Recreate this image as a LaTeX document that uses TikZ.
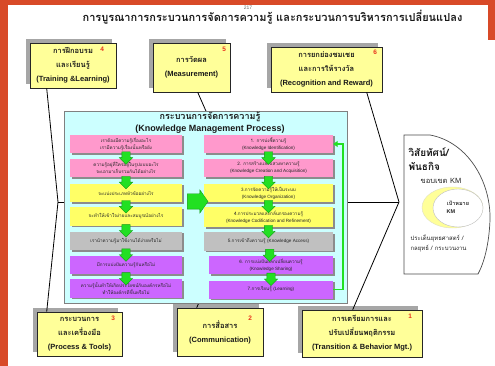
\documentclass[tikz,border=0pt]{standalone}
\usepackage{fontspec}
\setmainfont[Script=Thai]{Loma}
\newfontfamily\enfont{Liberation Sans}
\newcommand\entext[1]{{\enfont #1}}
\usetikzlibrary{calc,shadows,shapes.arrows,arrows.meta}

\definecolor{frameorange}{HTML}{D84A28}
\definecolor{paleyellow}{HTML}{FFFF99}
\definecolor{kmcyan}{HTML}{CCFFFF}
\definecolor{kpink}{HTML}{FF99CC}
\definecolor{kyellow}{HTML}{FFFF66}
\definecolor{kgray}{HTML}{C0C0C0}
\definecolor{kpurple}{HTML}{CC66FF}
\definecolor{kgreen}{HTML}{22E022}
\definecolor{kgreenedge}{HTML}{119911}
\definecolor{numred}{HTML}{E8341C}

\tikzset{
  factor/.style={draw=black!85, line width=0.6pt, fill=paleyellow, align=center,
    inner sep=0pt, text=black!90, font=\fontsize{7.5}{14}\selectfont\bfseries,
    drop shadow={shadow xshift=-4pt, shadow yshift=4pt, fill=black!35, opacity=1}},
  num/.style={text=numred, font=\enfont\fontsize{6.5}{7}\selectfont\bfseries, inner sep=0pt},
  kmstep/.style={inner sep=0pt, align=center, text=black!85,
    font=\fontsize{4.6}{7}\selectfont,
    drop shadow={shadow xshift=1.5pt, shadow yshift=-1.5pt, fill=black!45, opacity=1}},
  leftstep/.style={kmstep, minimum width=112pt, minimum height=18.5pt},
  rightstep/.style={kmstep, minimum width=129pt, minimum height=18.5pt},
  narrowstep/.style={kmstep, minimum width=124pt, minimum height=18pt},
  bone/.style={draw=black, line width=0.8pt},
  gdown/.style={single arrow, rotate=-90, draw=kgreenedge, fill=kgreen,
    line width=0.3pt, inner sep=4pt, minimum height=11pt,
    single arrow head extend=2.5pt},
  gright/.style={single arrow, draw=kgreenedge, fill=kgreen, line width=0.3pt,
    inner sep=7.5pt, minimum height=18pt, single arrow head extend=4pt,
    single arrow tip angle=110},
  fback/.style={draw=kgreen, line width=1.5pt, -{Triangle[length=4.5pt,width=6pt]}},
}

\begin{document}
\begin{tikzpicture}[x=1pt, y=-1pt]
\useasboundingbox (0,0) rectangle (495,366);

% page frame
\fill[frameorange] (0,0) rectangle (495,5);
\fill[frameorange] (0,0) rectangle (8,366);
\fill[frameorange] (488,0) rectangle (495,40);

% heading
\node[font=\enfont\fontsize{5}{6}\selectfont, text=black!60] (pgno) at (248,8) {217};
\node[font=\fontsize{11}{13}\selectfont\bfseries, text=black!90] (title) at (272.5,17)
  {การบูรณาการกระบวนการจัดการความรู้ และกระบวนการบริหารการเปลี่ยนแปลง};

% fishbone joints
\coordinate (tail) at (58,202);
\coordinate (hd) at (399,202);
\coordinate (j5) at (246,202);
\coordinate (j2) at (243,202);

% factor boxes
\node[factor, minimum width=86pt, minimum height=45pt] (b4) at (73,65.5)
  {การฝึกอบรม\\และเรียนรู้\\\entext{(Training \&Learning)}};
\node[factor, minimum width=77pt, minimum height=49pt] (b5) at (191.5,67.5)
  {การวัดผล\\\entext{(Measurement)}};
\node[factor, minimum width=111pt, minimum height=45pt] (b6) at (326.5,69.5)
  {การยกย่องชมเชย\\และการให้รางวัล\\\entext{(Recognition and Reward)}};
\node[factor, minimum width=85pt, minimum height=44pt] (b3) at (79.5,334)
  {กระบวนการ\\และเครื่องมือ\\\entext{(Process \& Tools)}};
\node[factor, minimum width=86pt, minimum height=48pt] (b2) at (220,332)
  {การสื่อสาร\\\entext{(Communication)}};
\node[factor, minimum width=120pt, minimum height=47pt] (b1) at (362,333.5)
  {การเตรียมการและ\\ปรับเปลี่ยนพฤติกรรม\\\entext{(Transition \& Behavior Mgt.)}};

\node[num] (n4) at ($(b4.north east)+(-14,7)$) {4};
\node[num] (n5) at ($(b5.north east)+(-6,7)$) {5};
\node[num] (n6) at ($(b6.north east)+(-7,6)$) {6};
\node[num] (n3) at ($(b3.north east)+(-9,7)$) {3};
\node[num] (n2) at ($(b2.north east)+(-13,11)$) {2};
\node[num] (n1) at ($(b1.north east)+(-12,7)$) {1};

% bones
\draw[bone] (tail) -- (hd);
\draw[bone] ($(b4.south west)+(17,0)$) -- (tail);
\draw[bone] ($(b3.north west)+(10,0)$) -- (tail);
\draw[bone] ($(b5.south west)+(45,0)$) -- (j5);
\draw[bone] ($(b2.north west)+(20,0)$) -- (j2);
\draw[bone] ($(b6.south west)+(96,0)$) -- (hd);
\draw[bone] ($(b1.north west)+(51,0)$) -- (hd);

% knowledge management process panel
\node[draw=black!50, fill=kmcyan, line width=0.6pt, minimum width=283pt,
  minimum height=192pt, inner sep=0pt] (km) at (205.5,207) {};
\node[font=\fontsize{9}{10}\selectfont\bfseries, text=black!90] (kmth) at (210,117)
  {กระบวนการจัดการความรู้};
\node[font=\enfont\fontsize{9}{10}\selectfont\bfseries, text=black!90] (kmen) at (210,129)
  {(Knowledge Management Process)};

% guiding questions
\node[leftstep, fill=kpink] (l1) at (126,144) {เราต้องมีความรู้เรื่องอะไร\\เรามีความรู้เรื่องนั้นหรือยัง};
\node[leftstep, fill=kpink] (l2) at (126,168) {ความรู้อยู่ที่ใครอยู่ในรูปแบบอะไร\\จะเอามาเก็บรวมกันได้อย่างไร};
\node[leftstep, fill=kyellow] (l3) at (126,193) {จะแบ่งประเภทหัวข้ออย่างไร};
\node[leftstep, fill=kyellow] (l4) at (126,216.5) {จะทำให้เข้าใจง่ายและสมบูรณ์อย่างไร};
\node[leftstep, fill=kgray] (l5) at (126,241) {เรานำความรู้มาใช้งานได้ง่ายหรือไม่};
\node[leftstep, fill=kpurple] (l6) at (126,265) {มีการแบ่งปันความรู้กันหรือไม่};
\node[leftstep, fill=kpurple] (l7) at (126,288.5) {ความรู้นั้นทำให้เกิดประโยชน์กับองค์กรหรือไม่\\ทำให้องค์กรดีขึ้นหรือไม่};

% process steps
\node[rightstep, fill=kpink] (r1) at (268.5,144) {1. การบ่งชี้ความรู้\\\entext{(Knowledge Identification)}};
\node[rightstep, fill=kpink] (r2) at (268.5,168) {2. การสร้างและแสวงหาความรู้\\\entext{(Knowledge Creation and Acquisition)}};
\node[rightstep, fill=kyellow] (r3) at (268.5,193) {3.การจัดความรู้ให้เป็นระบบ\\\entext{(Knowledge Organization)}};
\node[rightstep, fill=kyellow, minimum height=20pt] (r4) at (268.5,217) {4.การประมวลและกลั่นกรองความรู้\\\entext{(Knowledge Codification and Refinement)}};
\node[rightstep, fill=kgray] (r5) at (268.5,241.5) {5.การเข้าถึงความรู้ \entext{(Knowledge Access)}};
\node[narrowstep, fill=kpurple] (r6) at (271,265) {6. การแบ่งปันแลกเปลี่ยนความรู้\\\entext{(Knowledge Sharing)}};
\node[narrowstep, fill=kpurple] (r7) at (271,289.5) {7.การเรียนรู้ \entext{(Learning)}};

% flow arrows
\foreach \a/\b in {l1/l2,l2/l3,l3/l4,l4/l5,l5/l6,l6/l7,r1/r2,r2/r3,r3/r4,r4/r5,r5/r6,r6/r7}
  \node[gdown] (d\a) at ($(\a.south)!0.5!(\b.north)$) {};
\node[gright] (link) at (195,201.5) {};
\draw[fback] (r7.east) -- ++(10,0) |- (r1.east);

% vision / mission head
\draw[fill=white, draw=black!70, line width=0.7pt]
  (404,135) -- (430,135) .. controls (468,142) and (491,182) .. (490,220)
  .. controls (489,245) and (484,263) .. (478,274) -- (404,274) -- cycle;
\node[anchor=west, font=\fontsize{10}{12}\selectfont\bfseries, text=black!90] (vis) at (405,152) {วิสัยทัศน์/};
\node[anchor=west, font=\fontsize{10}{12}\selectfont\bfseries, text=black!90] (mis) at (405,166) {พันธกิจ};
\node[font=\fontsize{7.5}{9}\selectfont, text=black!85] (scope) at (441,181) {ขอบเขต \entext{KM}};
\draw[fill=paleyellow, draw=paleyellow!70!black!40, line width=0.4pt]
  (452.5,207.5) ellipse [x radius=30.5pt, y radius=20.5pt];
\draw[fill=white, draw=black!25, line width=0.4pt]
  (458,208) ellipse [x radius=25pt, y radius=19pt];
\node[font=\fontsize{5.5}{6}\selectfont\bfseries, text=black!85] (goal) at (458,203) {เป้าหมาย};
\node[anchor=west, font=\enfont\fontsize{5.5}{6}\selectfont\bfseries, text=black!85] (goalkm) at (443,212) {KM};
\node[anchor=west, font=\fontsize{6}{7}\selectfont, text=black!85] (strat) at (407,239) {ประเด็นยุทธศาสตร์ /};
\node[anchor=west, font=\fontsize{6}{7}\selectfont, text=black!85] (proc) at (407,249) {กลยุทธ์ / กระบวนงาน};
\end{tikzpicture}
\end{document}
